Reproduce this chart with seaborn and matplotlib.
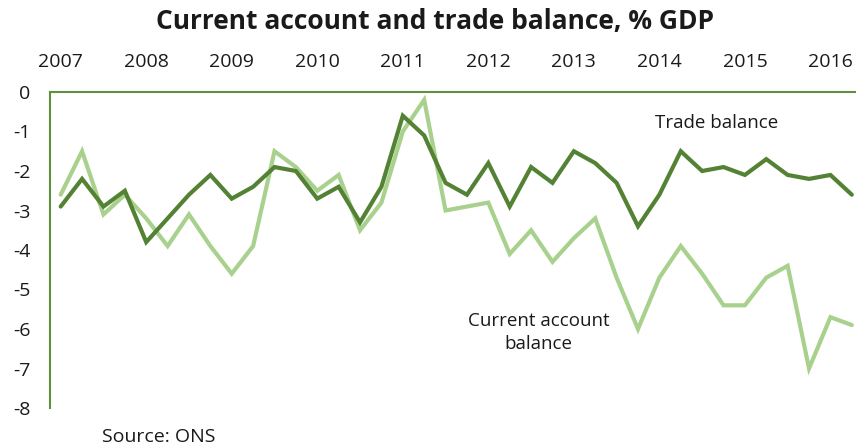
import matplotlib
matplotlib.use("Agg")
import matplotlib.pyplot as plt
import seaborn as sns
import pandas as pd
import numpy as np

# Quarterly observations, 2007 Q1 - 2016 Q2 (% of GDP)
years = [str(y) for y in range(2007, 2017)]
quarters = [f"{y} Q{q}" for y in range(2007, 2017) for q in range(1, 5)][:38]

trade_balance = [
    -2.9, -2.2, -2.9, -2.5, -3.8, -3.2, -2.6, -2.1,
    -2.7, -2.4, -1.9, -2.0, -2.7, -2.4, -3.3, -2.4,
    -0.6, -1.1, -2.3, -2.6, -1.8, -2.9, -1.9, -2.3,
    -1.5, -1.8, -2.3, -3.4, -2.6, -1.5, -2.0, -1.9,
    -2.1, -1.7, -2.1, -2.2, -2.1, -2.6,
]
current_account = [
    -2.6, -1.5, -3.1, -2.6, -3.2, -3.9, -3.1, -3.9,
    -4.6, -3.9, -1.5, -1.9, -2.5, -2.1, -3.5, -2.8,
    -1.0, -0.2, -3.0, -2.9, -2.8, -4.1, -3.5, -4.3,
    -3.7, -3.2, -4.7, -6.0, -4.7, -3.9, -4.6, -5.4,
    -5.4, -4.7, -4.4, -7.0, -5.7, -5.9,
]
y_ticks = [0, -1, -2, -3, -4, -5, -6, -7, -8]

df = pd.DataFrame({
    "pos": np.arange(len(quarters)),
    "quarter": quarters,
    "Trade balance": trade_balance,
    "Current account balance": current_account,
})

sns.set_theme(style="white")
plt.rcParams["font.family"] = ["Open Sans", "DejaVu Sans"]

DARK = "#548235"
LIGHT = "#A9D18E"
AXIS = "#5f913c"
TEXT = "#1a1a1a"

fig = plt.figure(figsize=(8.56, 4.48), dpi=100)
ax = fig.add_axes([50 / 856, 1 - 408 / 448, 812.5 / 856, 316 / 448])

sns.lineplot(data=df, x="pos", y="Current account balance", color=LIGHT,
             linewidth=3.0, ax=ax, solid_joinstyle="miter")
sns.lineplot(data=df, x="pos", y="Trade balance", color=DARK,
             linewidth=3.0, ax=ax, solid_joinstyle="miter")

ax.set_xlim(-0.5, len(quarters) - 0.5)
ax.set_ylim(-8, 0)
ax.set_xlabel("")
ax.set_ylabel("")

# Year labels sit on the zero line at the top of the plot
ax.xaxis.tick_top()
ax.set_xticks(np.arange(0, len(quarters), 4))
ax.set_xticklabels(years)
ax.set_yticks(y_ticks)
ax.set_yticklabels([str(v) for v in y_ticks])
ax.tick_params(axis="x", length=0, pad=15, labelsize=14, colors=TEXT)
ax.tick_params(axis="y", length=0, pad=14, labelsize=14, colors=TEXT)

for side in ["right", "bottom"]:
    ax.spines[side].set_visible(False)
for side in ["top", "left"]:
    ax.spines[side].set_color(AXIS)
    ax.spines[side].set_linewidth(1.5)
ax.grid(False)

ax.text(30.7, -0.78, "Trade balance", ha="center", va="center",
        fontsize=13.5, color=TEXT)
ax.text(22.35, -6.1, "Current account\nbalance", ha="center", va="center",
        fontsize=13.5, color=TEXT, linespacing=1.35)

fig.text(435 / 856, 1 - 22 / 448, "Current account and trade balance, % GDP",
         ha="center", va="center", fontsize=19, fontweight="bold", color=TEXT)
fig.text(102 / 856, 1 - 437 / 448, "Source: ONS", ha="left", va="center",
         fontsize=14, color=TEXT)

fig.savefig("out.png", dpi=100)
